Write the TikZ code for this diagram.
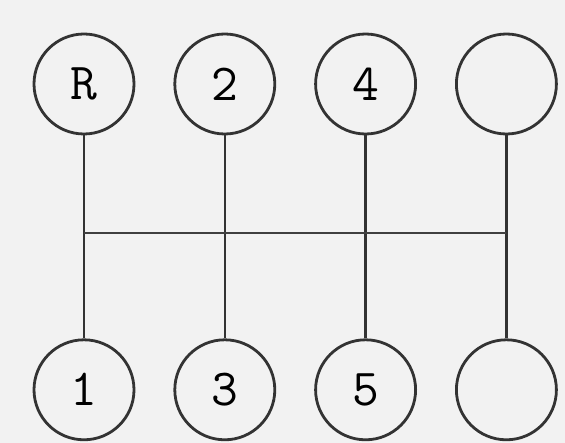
\documentclass[tikz,border=0pt]{standalone}
\usepackage{tikz}
\usetikzlibrary{positioning, calc}

\begin{document}
\begin{tikzpicture}[
    node distance=203pt and 38pt,
    gear/.style={circle, draw=black!80, line width=2.8pt, minimum size=100pt, inner sep=0pt, font=\ttfamily\fontsize{52}{56}\selectfont},
    rod/.style={draw=black!80, line width=2.4pt},
    bar/.style={draw=black!75, line width=1.8pt}
]
\useasboundingbox[fill=black!5] (0,0) rectangle (565pt,-443pt);
\node (gearR) [gear] at (84pt,-84pt) {R};
\node (gear2) [gear, right=of gearR] {2};
\node (gear4) [gear, right=of gear2] {4};
\node (gearT) [gear, right=of gear4] {};
\node (gear1) [gear, below=of gearR] {1};
\node (gear3) [gear, below=of gear2] {3};
\node (gear5) [gear, below=of gear4] {5};
\node (gearB) [gear, below=of gearT] {};
\draw [rod] (gearR) -- (gear1);
\draw [rod] (gear2) -- (gear3);
\draw [rod] (gear4) -- (gear5);
\draw [rod] (gearT) -- (gearB);
\coordinate (barL) at ($(gearR.south)!0.48!(gear1.north)$);
\coordinate (barR) at ($(gearT.south)!0.48!(gearB.north)$);
\draw [bar] (barL) -- (barR);
\end{tikzpicture}
\end{document}
